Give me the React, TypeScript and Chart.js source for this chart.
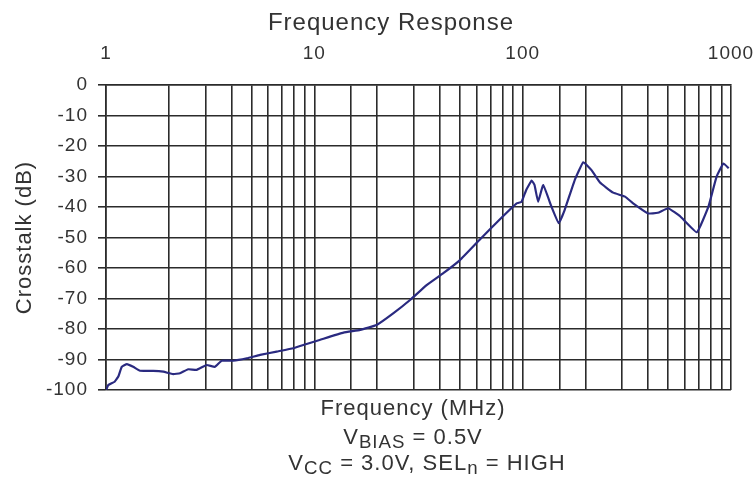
import React, { useEffect, useRef } from "react";
import { Chart, registerables } from "chart.js";

Chart.register(...registerables);

const chartTitle = "Frequency Response";
const yAxisTitle = "Crosstalk (dB)";
const xAxisTitle = "Frequency (MHz)";
const xTickLabels = [1, 10, 100, 1000];
const yTicks = [0, -10, -20, -30, -40, -50, -60, -70, -80, -90, -100];

const freqMHz = [
  1, 1.025, 1.1, 1.146, 1.19, 1.26, 1.35, 1.456, 1.687, 1.885, 2.1, 2.265, 2.48, 2.725, 3.04, 3.33,
  3.59, 4.08, 4.74, 5.49, 6.59, 7.93, 9.18, 10.6, 13.8, 16.6, 19.9, 23.9, 28.8, 34.6, 41.6, 50,
  62, 80, 93.6, 98.8, 104, 110.5, 114, 118.6, 125.5, 137.5, 149, 159, 178, 195.5, 214, 235, 272,
  310, 339, 400, 445, 500, 573, 686, 779, 852, 920, 975,
];
const crosstalkDb = [
  -100, -98.4, -97.3, -95.6, -92.4, -91.5, -92.4, -93.7, -93.7, -94, -94.8, -94.5, -93.2, -93.4, -91.8, -92.4,
  -90.4, -90.4, -89.6, -88.5, -87.4, -86.3, -84.9, -83.6, -81.2, -80.3, -78.7, -74.9, -70.5, -65.6, -61.7, -57.4,
  -50.8, -43.2, -38.8, -38.3, -34.4, -31.3, -32.8, -38.3, -32.8, -39.9, -45.3, -41, -31.1, -25.3, -27.9, -32, -35.3,
  -36.6, -38.8, -42.1, -41.9, -40.4, -43.2, -48.3, -39.9, -30.1, -25.7, -27.3,
];

const FONT = "'Liberation Sans', Arial, Helvetica, sans-serif";
const TEXT = "#333333";
const GRID = "#2b2b2b";
const LINE = "#2a2a80";

const spacingPlugin = {
  id: "letterSpacing",
  beforeLayout(chart: any) {
    (chart.ctx as any).letterSpacing = "1px";
  },
  beforeDraw(chart: any) {
    (chart.ctx as any).letterSpacing = "1px";
  },
};

export default function App() {
  const canvasRef = useRef<HTMLCanvasElement | null>(null);

  useEffect(() => {
    if (!canvasRef.current) return;
    const chart = new Chart(canvasRef.current, {
      type: "line",
      data: {
        datasets: [
          {
            label: "Crosstalk",
            data: freqMHz.map((f, i) => ({ x: f, y: crosstalkDb[i] })),
            borderColor: LINE,
            borderWidth: 2.2,
            pointRadius: 0,
            tension: 0.1,
            fill: false,
          },
        ],
      },
      options: {
        animation: false,
        responsive: false,
        maintainAspectRatio: false,
        layout: { padding: { left: 0, right: 25, top: 37.8, bottom: 97 } },
        plugins: {
          legend: { display: false },
          tooltip: { enabled: false },
          title: { display: false },
        },
        scales: {
          x: {
            type: "logarithmic",
            position: "top",
            min: 1,
            max: 1000,
            afterFit(scale: any) {
              scale.height = 47.2;
              scale.paddingLeft = 0;
              scale.paddingRight = 0;
            },
            border: { display: true, color: GRID, width: 1.6 },
            grid: { color: GRID, lineWidth: 1.6, drawTicks: false },
            ticks: {
              autoSkip: false,
              maxRotation: 0,
              padding: 20,
              color: TEXT,
              font: { family: FONT, size: 19 },
              callback: (v: any) => (xTickLabels.includes(Number(v)) ? String(v) : ""),
            },
          },
          y: {
            type: "linear",
            min: -100,
            max: 0,
            afterFit(scale: any) {
              scale.width = 106;
              scale.paddingTop = 0;
              scale.paddingBottom = 0;
            },
            afterBuildTicks(scale: any) {
              scale.ticks = yTicks.map((v) => ({ value: v }));
            },
            border: { display: true, color: GRID, width: 1.6 },
            grid: { color: GRID, lineWidth: 1.6, drawTicks: true, tickLength: 8 },
            ticks: {
              padding: 10,
              color: TEXT,
              font: { family: FONT, size: 19 },
            },
            title: {
              display: true,
              text: yAxisTitle,
              color: TEXT,
              font: { family: FONT, size: 22 },
              padding: { top: 12, bottom: 0 },
            },
          },
        },
      },
      plugins: [spacingPlugin],
    } as any);
    return () => chart.destroy();
  }, []);

  const lineStyle = (cx: number, cy: number, size = 22): React.CSSProperties => ({
    position: "absolute",
    left: cx - 250,
    width: 500,
    top: cy - 14,
    height: 28,
    lineHeight: "28px",
    textAlign: "center",
    fontFamily: FONT,
    fontSize: size,
    letterSpacing: "1px",
    color: TEXT,
    whiteSpace: "nowrap",
  });
  const subStyle: React.CSSProperties = { fontSize: "0.85em", position: "relative", top: "0.22em" };

  return (
    <div style={{ position: "absolute", left: 0, top: 0, width: 756, height: 487, background: "#fff" }}>
      <canvas ref={canvasRef} width={756} height={487} style={{ display: "block", width: 756, height: 487 }} />
      <div style={lineStyle(391, 22, 24)}>{chartTitle}</div>
      <div style={lineStyle(413, 408)}>{xAxisTitle}</div>
      <div style={lineStyle(413, 437)}>
        V<span style={subStyle}>BIAS</span> = 0.5V
      </div>
      <div style={lineStyle(427, 463)}>
        V<span style={subStyle}>CC</span> = 3.0V, SEL<span style={subStyle}>n</span> = HIGH
      </div>
    </div>
  );
}
